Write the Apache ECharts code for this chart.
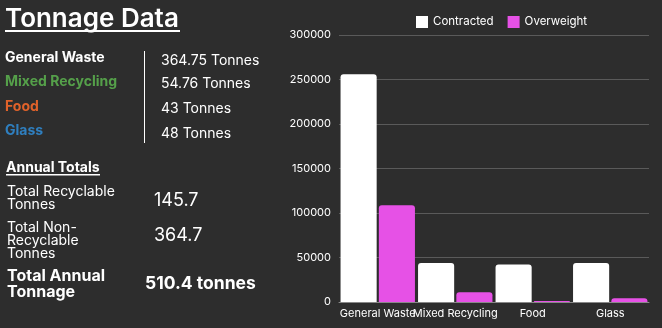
<!DOCTYPE html>
<html><head><meta charset="utf-8">
<script src="https://cdn.jsdelivr.net/npm/echarts@6/dist/echarts.min.js"></script>
<style>html,body{margin:0;padding:0;background:#2d2d2d;}#c{width:662px;height:328px;}</style>
</head><body><div id="c"></div>
<script>
var categories = ['General Waste', 'Mixed Recycling', 'Food', 'Glass'];
var contracted = [256000, 43680, 42000, 43680];
var overweight = [108750, 11080, 1000, 4320];
var yTicks = [0, 50000, 100000, 150000, 200000, 250000, 300000];
var wasteNames = ['General Waste', 'Mixed Recycling', 'Food', 'Glass'];
var wasteTonnes = ['364.75 Tonnes', '54.76 Tonnes', '43 Tonnes', '48 Tonnes'];
var wasteColors = ['#ffffff', '#55a04a', '#e0622a', '#2f7fbf'];
var totalLabels = ['Total Recyclable\nTonnes', 'Total Non-\nRecyclable\nTonnes', 'Total Annual\nTonnage'];
var totalValues = ['145.7', '364.7', '510.4 tonnes'];

var F = 'Inter, "Noto Sans", sans-serif';
var graphic = [];
graphic.push({type:'text', left:5, top:6, style:{text:'Tonnage Data', fill:'#fff', font:'600 26px ' + F}});
graphic.push({type:'rect', shape:{x:5, y:30, width:175, height:2}, style:{fill:'#fff'}});
var rowY = [58, 82, 107, 131];
var valY = [61, 84, 109, 134];
for (var i = 0; i < wasteNames.length; i++) {
  graphic.push({type:'text', x:5, y:rowY[i], style:{text:wasteNames[i], fill:wasteColors[i], font:'bold 14px ' + F, verticalAlign:'middle'}});
  graphic.push({type:'text', x:161, y:valY[i], style:{text:wasteTonnes[i], fill:'#fff', font:'14px ' + F, verticalAlign:'middle'}});
}
graphic.push({type:'line', shape:{x1:144.5, y1:51, x2:144.5, y2:143}, style:{stroke:'#fff', lineWidth:1}});
graphic.push({type:'text', x:6, y:168, style:{text:'Annual Totals', fill:'#fff', font:'bold 14px ' + F, verticalAlign:'middle'}});
graphic.push({type:'rect', shape:{x:6, y:174, width:94, height:1.5}, style:{fill:'#fff'}});
graphic.push({type:'text', x:7, y:185.5, style:{text:totalLabels[0], fill:'#fff', font:'14px ' + F, lineHeight:13, verticalAlign:'top'}});
graphic.push({type:'text', x:154, y:201, style:{text:totalValues[0], fill:'#fff', font:'18px ' + F, verticalAlign:'middle'}});
graphic.push({type:'text', x:7, y:221.5, style:{text:totalLabels[1], fill:'#fff', font:'14px ' + F, lineHeight:13, verticalAlign:'top'}});
graphic.push({type:'text', x:154, y:236, style:{text:totalValues[1], fill:'#fff', font:'18px ' + F, verticalAlign:'middle'}});
graphic.push({type:'text', x:7, y:268.5, style:{text:totalLabels[2], fill:'#fff', font:'bold 16px ' + F, lineHeight:16, verticalAlign:'top'}});
graphic.push({type:'text', x:145, y:284, style:{text:totalValues[2], fill:'#fff', font:'bold 17.5px ' + F, verticalAlign:'middle'}});

var chart = echarts.init(document.getElementById('c'));
chart.setOption({
  backgroundColor:'#2d2d2d',
  animation:false,
  graphic: graphic,
  legend:{
    data:['Contracted','Overweight'], top:11, left:411,
    itemWidth:12, itemHeight:12, itemGap:14,
    icon:'rect',
    textStyle:{color:'#fff', fontSize:11.5, fontFamily:F}
  },
  grid:{left:339, right:13, top:35, bottom:26},
  xAxis:{
    type:'category', data:categories,
    axisLine:{lineStyle:{color:'#888'}}, axisTick:{show:false},
    axisLabel:{color:'#fff', fontSize:11, fontFamily:F, margin:6, interval:0}
  },
  yAxis:{
    type:'value', min:yTicks[0], max:yTicks[yTicks.length-1], interval:yTicks[1]-yTicks[0],
    axisLabel:{color:'#fff', fontSize:11, fontFamily:F, margin:8, formatter:function(v){return String(v);}},
    splitLine:{lineStyle:{color:'#5a5a5a'}},
    axisLine:{show:false}, axisTick:{show:false}
  },
  series:[
    {name:'Contracted', type:'bar', data:contracted, barCategoryGap:'4%', barGap:'6%',
     itemStyle:{color:'#ffffff', borderRadius:[3,3,0,0]}},
    {name:'Overweight', type:'bar', data:overweight,
     itemStyle:{color:'#e651e6', borderRadius:[3,3,0,0]}}
  ]
});
</script></body></html>
